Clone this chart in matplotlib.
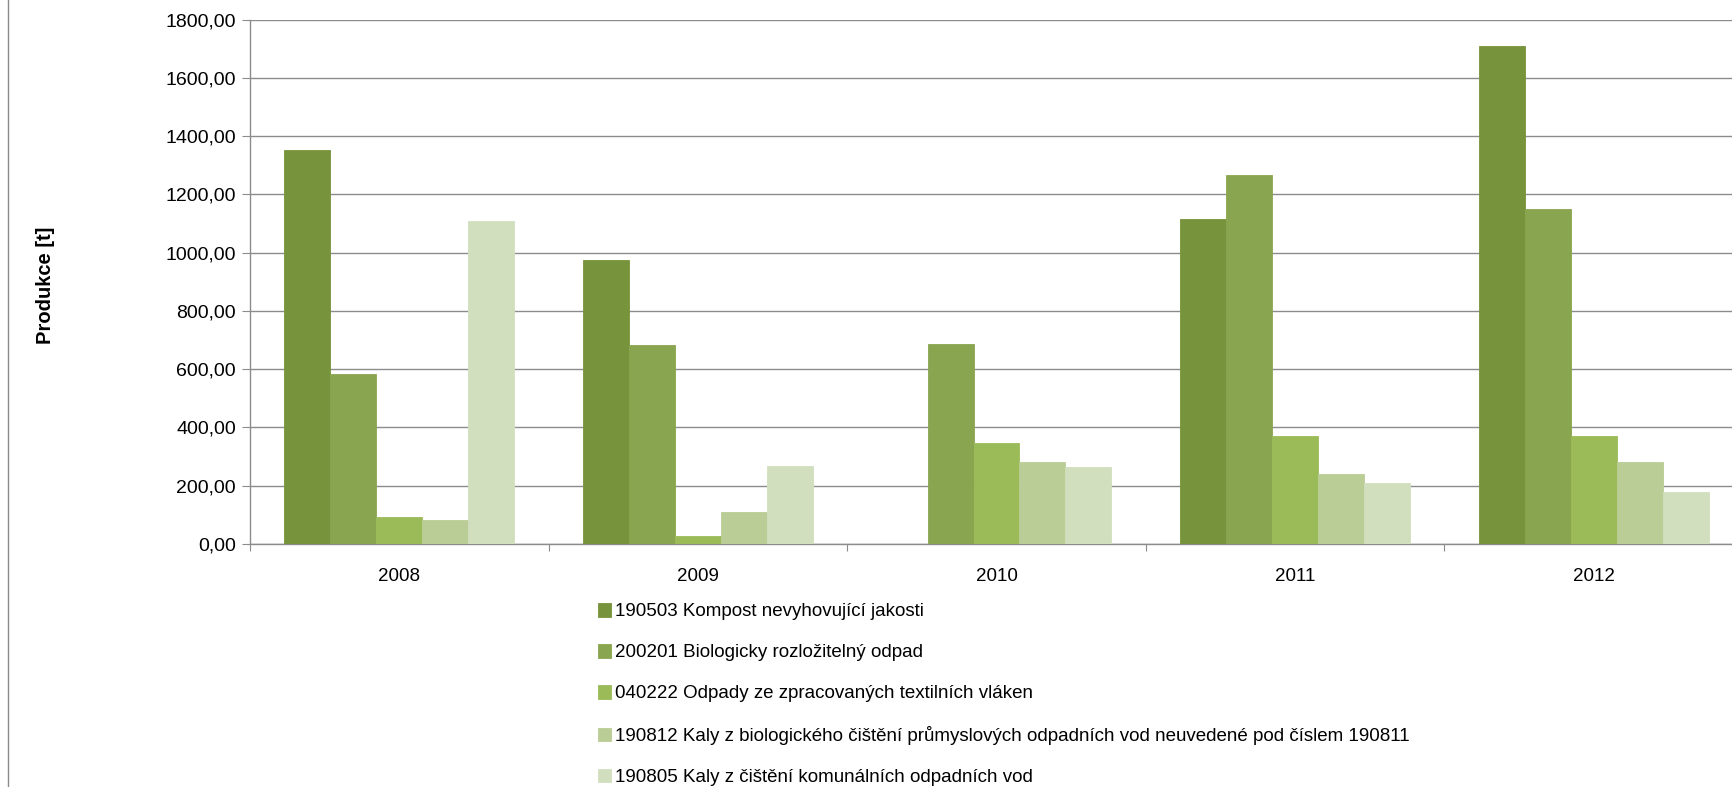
import matplotlib.pyplot as plt
import numpy as np
from matplotlib.lines import Line2D
from matplotlib.ticker import FuncFormatter

plt.rcParams['font.family'] = ['Liberation Sans', 'DejaVu Sans']

# data
years = ['2008', '2009', '2010', '2011', '2012']
series_names = [
    '190503 Kompost nevyhovující jakosti',
    '200201 Biologicky rozložitelný odpad',
    '040222 Odpady ze zpracovaných textilních vláken',
    '190812 Kaly z biologického čištění průmyslových odpadních vod neuvedené pod číslem 190811',
    '190805 Kaly z čištění komunálních odpadních vod',
]
kompost = [1353, 974, 0, 1114, 1710]
biolog = [584, 682, 686, 1266, 1148]
textil = [94, 27, 345, 371, 371]
kaly_prum = [83, 110, 280, 239, 280]
kaly_kom = [1110, 269, 265, 208, 178]
series = [kompost, biolog, textil, kaly_prum, kaly_kom]
colors = ['#77933C', '#8AA54F', '#9BBB59', '#BACD96', '#D2DFBE']

W, H = 1733, 787
fig = plt.figure(figsize=(W / 100, H / 100), dpi=100)
# plot area runs past the right edge (cropped like the original)
ax = fig.add_axes([250 / W, 1 - 544 / H, 1493 / W, 524.5 / H])

n = len(series)
bar_w = 1 / (n + 1.5)
x = np.arange(len(years))
for i, (vals, c, name) in enumerate(zip(series, colors, series_names)):
    pos = x + 0.5 + (i - (n - 1) / 2) * bar_w
    ax.bar(pos, vals, width=bar_w, color=c, edgecolor=c, linewidth=0.6,
           label=name, zorder=3)

ax.set_xlim(0, len(years))
ax.set_ylim(0, 1800)
ax.set_yticks(np.arange(0, 1801, 200))
ax.yaxis.set_major_formatter(FuncFormatter(lambda v, p: f'{v:.2f}'.replace('.', ',')))
ax.grid(axis='y', color='#8C8C8C', linewidth=1, zorder=0)

ax.set_xticks(np.arange(0, len(years) + 1))
ax.set_xticklabels([])
ax.set_xticks(x + 0.5, minor=True)
ax.set_xticklabels(years, minor=True)
ax.tick_params(axis='x', which='major', length=5, color='#8C8C8C', direction='out')
ax.tick_params(axis='x', which='minor', length=0, pad=17, labelsize=13.5)
ax.tick_params(axis='y', length=6, color='#8C8C8C', labelsize=14, pad=4)

for s in ['top', 'right']:
    ax.spines[s].set_visible(False)
for s in ['left', 'bottom']:
    ax.spines[s].set_color('#8C8C8C')
    ax.spines[s].set_linewidth(1)

fig.text(46 / W, 1 - 285 / H, 'Produkce [t]', rotation=90, ha='center', va='center',
         fontsize=14.5, fontweight='bold')

# chart frame line on the left
fig.add_artist(Line2D([8 / W, 8 / W], [0, 1], color='#8C8C8C', linewidth=1))

fig.legend(loc='upper left', bbox_to_anchor=(598 / W, 1 - 603 / H), frameon=False,
           fontsize=13.5, handlelength=0.7, handleheight=0.75, handletextpad=0.2,
           labelspacing=1.26, borderpad=0, borderaxespad=0)

fig.savefig('out.png', dpi=100)
